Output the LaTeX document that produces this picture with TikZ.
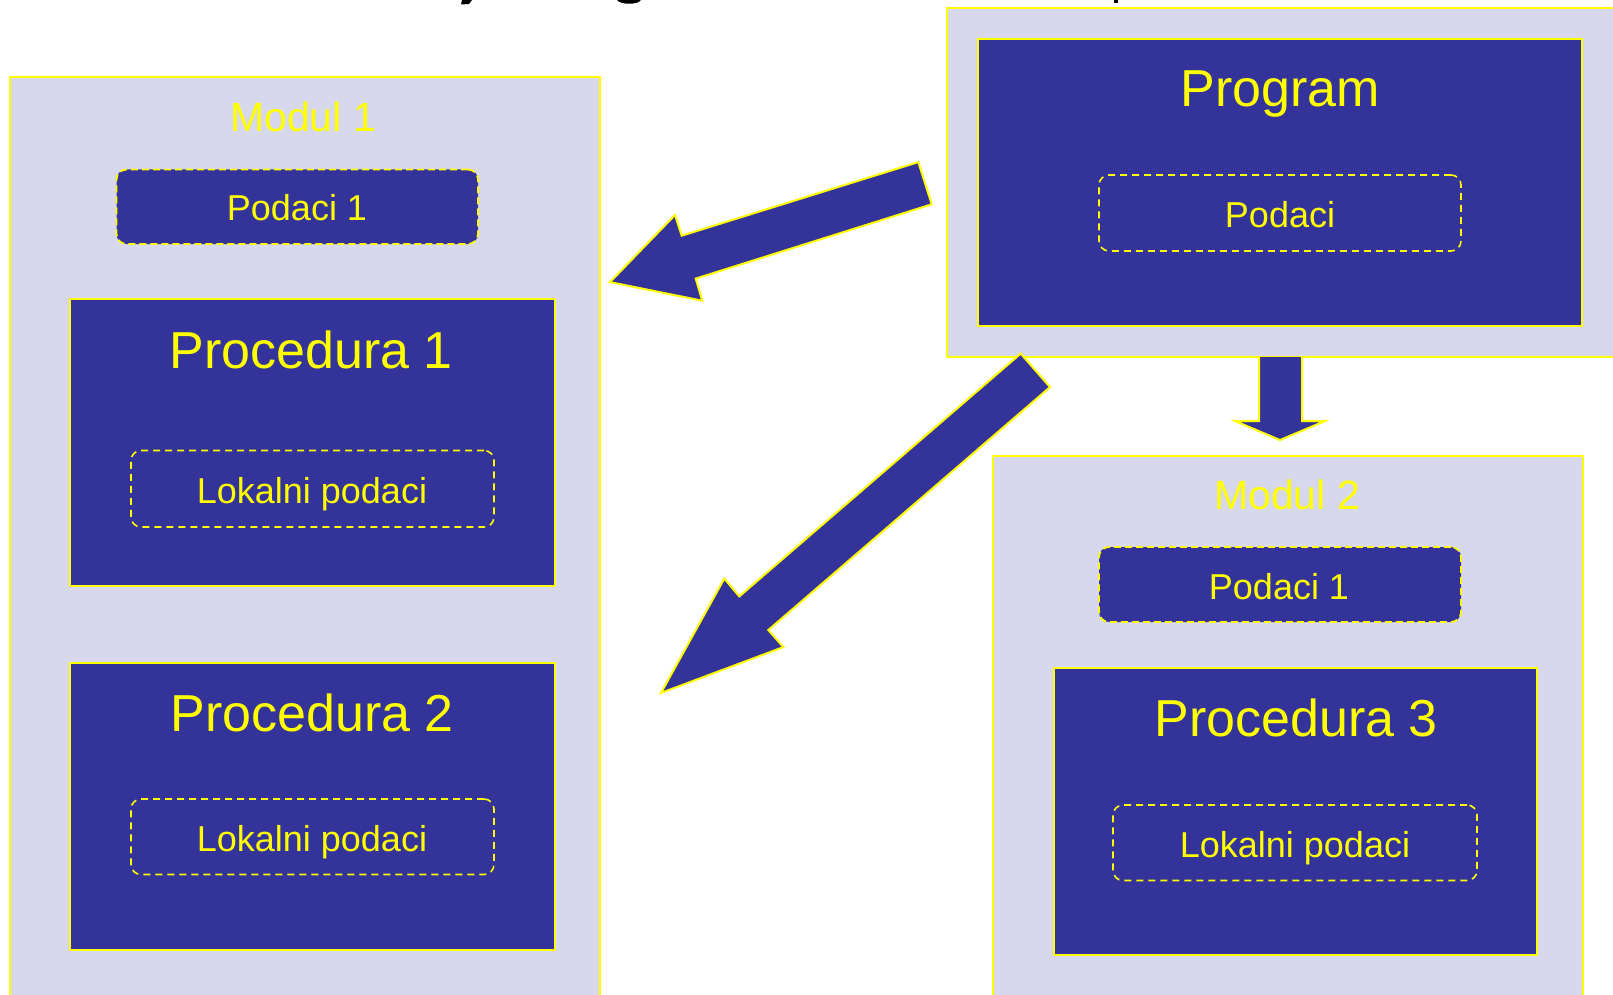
\documentclass[tikz,border=0pt]{standalone}
\usepackage{fontspec}
\setmainfont{Liberation Sans}
\definecolor{dk}{RGB}{51,51,153}
\definecolor{lt}{RGB}{216,216,236}
\definecolor{yl}{RGB}{255,255,0}
\begin{document}
\begin{tikzpicture}[x=1pt,y=-1pt,
  box/.style={anchor=north west, inner sep=0pt, outer sep=0pt},
  outerbox/.style={box, draw=yl, line width=2pt, fill=lt},
  procbox/.style={box, draw=yl, line width=2pt, fill=dk},
  databox/.style={box, draw=yl, line width=1.8pt, dash pattern=on 7pt off 4pt, rounded corners=10pt, fill=dk},
  localbox/.style={box, draw=yl, line width=1.6pt, dash pattern=on 7pt off 5pt, rounded corners=10pt},
  txt/.style={text=yl, anchor=base, inner sep=0pt},
  bigtxt/.style={txt, font=\fontsize{52}{60}\selectfont},
  modtxt/.style={txt, font=\fontsize{41}{48}\selectfont},
  smalltxt/.style={txt, font=\fontsize{36}{42}\selectfont},
  blockarrow/.style={fill=dk, draw=yl, line width=2pt, line join=miter}
]
\useasboundingbox (0,0) rectangle (1613,995);
\clip (0,0) rectangle (1613,995);
\fill[white] (0,0) rectangle (1613,995);

% title fragments cut off at the top edge
\fill[black] (462,0) -- (472,0) -- (469,4) -- (461,4.5) -- cycle;
\fill[black] (617,0) -- (641,0) .. controls (638,5) and (620,5) .. (617,0) -- cycle;
\fill[black] (1114,0) rectangle (1118,3.5);

% Modul 1
\node[outerbox, minimum width=589.4pt, minimum height=950pt] (m1) at (10.3,77) {};
\node[modtxt] (m1t) at (303,132) {Modul 1};
\node[databox, minimum width=361.5pt, minimum height=74.5pt] (d1) at (116.5,169.5) {};
\node[smalltxt] (d1t) at (297,220) {Podaci 1};
\node[procbox, minimum width=485pt, minimum height=287pt] (p1) at (70,299) {};
\node[bigtxt] (p1t) at (311,368.5) {Procedura 1};
\node[localbox, minimum width=363pt, minimum height=76.5pt] (l1) at (131,450.5) {};
\node[smalltxt] (l1t) at (312,503) {Lokalni podaci};
\node[procbox, minimum width=485pt, minimum height=287pt] (p2) at (70,663) {};
\node[bigtxt] (p2t) at (312,731) {Procedura 2};
\node[localbox, minimum width=363pt, minimum height=75.5pt] (l2) at (131,799) {};
\node[smalltxt] (l2t) at (312,851) {Lokalni podaci};

% Program
\node[outerbox, minimum width=700pt, minimum height=348.5pt] (po) at (947,8.5) {};
\node[procbox, minimum width=604pt, minimum height=287pt] (pi) at (978,39) {};
\node[bigtxt] (pt) at (1280,107) {Program};
\node[localbox, minimum width=362pt, minimum height=76pt] (pd) at (1099,175) {};
\node[smalltxt] (pdt) at (1280,227) {Podaci};

% Modul 2
\node[outerbox, minimum width=590pt, minimum height=600pt] (m2) at (993,456) {};
\node[modtxt] (m2t) at (1287,509) {Modul 2};
\node[databox, minimum width=362pt, minimum height=75pt] (d2) at (1099,547) {};
\node[smalltxt] (d2t) at (1279,599) {Podaci 1};
\node[procbox, minimum width=483pt, minimum height=287pt] (p3) at (1054,668) {};
\node[bigtxt] (p3t) at (1296,736) {Procedura 3};
\node[localbox, minimum width=364pt, minimum height=75.5pt] (l3) at (1113,805) {};
\node[smalltxt] (l3t) at (1295,857) {Lokalni podaci};

% block arrows
\draw[blockarrow] (918.3,162.1) -- (931.7,204.3) -- (695.7,278.6) -- (702.3,300.7)
  -- (610,282.1) -- (675,215) -- (681.7,235.7) -- cycle;
\draw[blockarrow] (1020.7,353.6) -- (1050,387.1) -- (768.3,630) -- (783.3,647.1)
  -- (661,692.9) -- (724.3,578.6) -- (739.3,596.4) -- cycle;
\draw[blockarrow] (1259,357) -- (1259,421) -- (1235,421) -- (1280,440) -- (1325,421)
  -- (1302,421) -- (1302,357);
\end{tikzpicture}
\end{document}
